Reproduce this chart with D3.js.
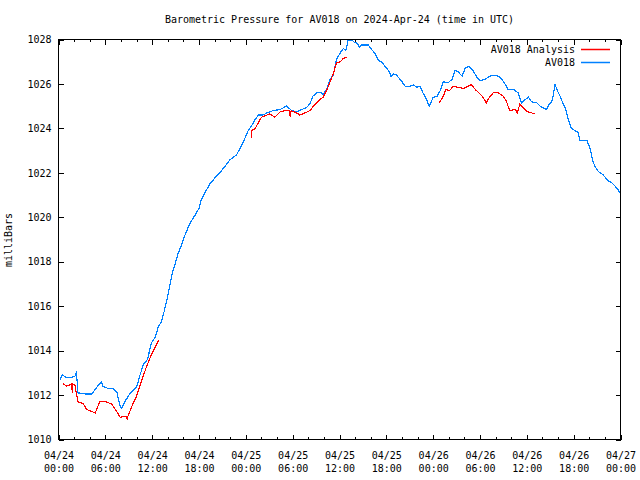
<!DOCTYPE html>
<html>
<head>
<meta charset="utf-8">
<script src="https://cdn.jsdelivr.net/npm/d3@7"></script>
<style>
  html, body { margin: 0; padding: 0; background: #fff; }
  svg { display: block; }
  text { font-family: "DejaVu Sans Mono", "Liberation Mono", monospace; font-size: 10px; fill: #000; }
</style>
</head>
<body>
<svg id="chart" width="640" height="480"></svg>
<script>
// ---- data (hours since 2024-04-24 00:00 UTC, millibars) ----
const titleText = "Barometric Pressure for AV018 on 2024-Apr-24 (time in UTC)";
const yLabel = "milliBars";
const seriesNames = ["AV018 Analysis", "AV018"];
const seriesColors = ["#ff0000", "#0080ff"];

const blueHours = [0.2,0.5,1.0,1.7,2.1,2.3,2.5,3.4,4.3,4.9,5.5,5.7,6.3,7.0,7.5,7.9,8.1,8.5,9.2,10.0,10.4,10.9,11.4,11.9,12.4,12.8,13.2,13.6,13.9,14.3,14.6,15.1,15.3,15.7,16.2,16.8,17.5,18.0,18.3,18.9,19.4,20.1,20.9,22.0,22.8,23.7,24.3,24.7,25.2,25.6,26.2,26.7,27.5,28.4,29.2,29.9,30.5,31.2,31.8,32.2,32.6,33.1,33.7,33.9,34.4,34.8,35.2,35.6,36.1,36.5,36.8,37.1,37.6,38.0,38.2,38.6,38.8,39.7,40.1,40.5,41.0,41.4,41.8,42.3,42.6,42.9,43.3,44.0,44.4,45.0,45.5,45.9,46.3,46.7,47.2,47.5,48.0,48.5,48.9,49.3,49.9,50.4,50.8,51.2,51.7,52.1,52.6,53.1,53.6,54.0,54.6,55.3,55.9,56.6,57.2,57.6,58.3,58.9,59.3,59.8,60.2,60.6,61.3,61.7,62.5,62.9,63.2,63.4,63.6,63.9,64.2,64.6,65.0,65.3,65.7,66.2,66.6,66.8,67.7,68.1,68.4,68.7,69.2,69.8,70.4,70.9,71.3,71.7,71.9];
const bluePressure = [1012.7,1012.9,1012.8,1012.8,1012.85,1013.0,1012.1,1012.05,1012.05,1012.35,1012.6,1012.4,1012.3,1012.3,1012.1,1011.5,1011.4,1011.7,1012.1,1012.35,1012.85,1013.4,1013.6,1014.35,1014.6,1015.1,1015.3,1015.85,1016.3,1017.0,1017.5,1018.1,1018.35,1018.7,1019.2,1019.7,1020.1,1020.4,1020.8,1021.2,1021.5,1021.8,1022.1,1022.6,1022.8,1023.4,1023.9,1024.1,1024.4,1024.6,1024.6,1024.7,1024.8,1024.85,1025.0,1024.8,1024.75,1024.85,1024.95,1025.1,1025.45,1025.6,1025.6,1025.5,1025.8,1026.2,1026.4,1027.1,1027.4,1027.6,1027.5,1027.95,1027.97,1027.85,1027.85,1027.65,1027.75,1027.75,1027.55,1027.4,1027.05,1027.0,1026.8,1026.6,1026.35,1026.45,1026.4,1026.1,1025.9,1025.9,1025.95,1025.85,1025.9,1025.6,1025.25,1025.0,1025.4,1025.45,1025.7,1026.1,1026.05,1026.2,1026.6,1026.55,1026.35,1026.7,1026.8,1026.6,1026.3,1026.15,1026.2,1026.35,1026.4,1026.3,1026.0,1025.75,1025.75,1025.6,1025.15,1025.3,1025.4,1025.2,1025.15,1025.0,1024.85,1025.1,1025.2,1025.5,1026.0,1025.7,1025.5,1025.15,1024.85,1024.4,1024.0,1023.9,1023.8,1023.45,1023.45,1023.1,1022.6,1022.3,1022.05,1021.9,1021.65,1021.55,1021.4,1021.25,1021.1];

// null marks a gap in the analysis series
const redHours = [0.6,1.05,1.7,1.77,1.86,2.1,2.5,3.2,3.6,4.7,5.3,6.0,6.8,7.2,7.9,8.7,8.8,8.9,9.4,10.0,10.7,11.3,12.0,12.9,
  18.0,
  24.75,24.76,25.2,25.6,26.0,26.7,27.1,27.7,28.4,29.0,29.6,29.7,29.8,30.5,30.9,31.6,32.2,32.9,33.5,33.9,34.4,34.8,35.2,35.6,36.1,36.5,36.9,
  43.0,
  48.8,49.3,49.6,50.1,50.6,51.2,51.9,52.5,52.9,53.4,54.0,54.4,54.8,55.3,55.7,56.3,57.0,57.4,57.8,58.5,58.8,59.1,59.5,60.0,60.6,61.0];
const redPressure = [1012.5,1012.4,1012.5,1012.1,1012.5,1012.45,1011.7,1011.6,1011.35,1011.2,1011.7,1011.7,1011.6,1011.4,1011.0,1011.05,1010.9,1011.05,1011.5,1011.95,1012.7,1013.3,1013.9,1014.5,
  null,
  1023.55,1023.9,1024.0,1024.25,1024.5,1024.6,1024.65,1024.5,1024.75,1024.8,1024.8,1024.5,1024.8,1024.7,1024.6,1024.7,1024.8,1025.1,1025.3,1025.4,1025.75,1026.1,1026.45,1026.95,1027.0,1027.15,1027.2,
  null,
  1025.15,1025.45,1025.75,1025.7,1025.9,1025.85,1025.8,1025.9,1025.97,1025.75,1025.55,1025.4,1025.15,1025.45,1025.6,1025.6,1025.45,1025.2,1024.8,1024.85,1024.7,1025.1,1024.95,1024.75,1024.7,1024.65];

const yTicks = [1010,1012,1014,1016,1018,1020,1022,1024,1026,1028];
const xTickHours = [0,6,12,18,24,30,36,42,48,54,60,66,72];
const xTickDays = ["04/24","04/24","04/24","04/24","04/25","04/25","04/25","04/25","04/26","04/26","04/26","04/26","04/27"];
const xTickTimes = ["00:00","06:00","12:00","18:00","00:00","06:00","12:00","18:00","00:00","06:00","12:00","18:00","00:00"];
const xMinorStepHours = 2;

// ---- drawing ----
const t0 = Date.UTC(2024, 3, 24, 0, 0);
const toDate = h => new Date(t0 + h * 3600e3);

const L = 58.5, R = 620.5, T = 39.5, B = 439.5;
const svg = d3.select("#chart");

const x = d3.scaleUtc().domain([toDate(0), toDate(72)]).range([L, R]);
const y = d3.scaleLinear().domain([1010, 1028]).range([B, T]);

const majorDates = xTickHours.map(toDate);
const minorDates = d3.range(0, 72 + 0.001, xMinorStepHours).filter(h => h % 6 !== 0).map(toDate);

function styleAxis(g) {
  g.select(".domain").remove();
  g.selectAll("line").attr("stroke", "#000").attr("shape-rendering", "crispEdges");
}

// bottom major with labels
const bottom = svg.append("g").attr("transform", `translate(0,${B})`)
  .call(d3.axisBottom(x).tickValues(majorDates).tickSizeInner(-5).tickSizeOuter(0)
    .tickPadding(0).tickFormat((d, i) => ""));
styleAxis(bottom);
bottom.selectAll(".tick text").remove();
bottom.selectAll(".tick").each(function(d, i) {
  const t = d3.select(this).append("text")
    .attr("text-anchor", "middle")
    .attr("font-family", "DejaVu Sans Mono, monospace")
    .attr("font-size", 10)
    .attr("fill", "#000");
  t.append("tspan").attr("x", 0).attr("y", 19).text(xTickDays[i]);
  t.append("tspan").attr("x", 0).attr("y", 32).text(xTickTimes[i]);
});
// bottom minor
styleAxis(svg.append("g").attr("transform", `translate(0,${B})`)
  .call(d3.axisBottom(x).tickValues(minorDates).tickSizeInner(-2.5).tickSizeOuter(0).tickFormat("")));
// top major + minor
styleAxis(svg.append("g").attr("transform", `translate(0,${T})`)
  .call(d3.axisTop(x).tickValues(majorDates).tickSizeInner(-5).tickSizeOuter(0).tickFormat("")));
styleAxis(svg.append("g").attr("transform", `translate(0,${T})`)
  .call(d3.axisTop(x).tickValues(minorDates).tickSizeInner(-2.5).tickSizeOuter(0).tickFormat("")));

// left with labels
const left = svg.append("g").attr("transform", `translate(${L},0)`)
  .call(d3.axisLeft(y).tickValues(yTicks).tickSizeInner(-5).tickSizeOuter(0).tickPadding(7).tickFormat(d3.format("d")));
styleAxis(left);
left.selectAll(".tick text")
  .attr("font-family", "DejaVu Sans Mono, monospace").attr("font-size", 10).attr("fill", "#000");
// right
styleAxis(svg.append("g").attr("transform", `translate(${R},0)`)
  .call(d3.axisRight(y).tickValues(yTicks).tickSizeInner(-5).tickSizeOuter(0).tickFormat("")));

// frame
svg.append("rect").attr("x", L).attr("y", T).attr("width", R - L).attr("height", B - T)
  .attr("fill", "none").attr("stroke", "#000").attr("shape-rendering", "crispEdges");

// lines
const blueData = blueHours.map((h, i) => ({ t: toDate(h), v: bluePressure[i] }));
const redData = redHours.map((h, i) => ({ t: toDate(h), v: redPressure[i] }));
const line = d3.line().defined(d => d.v != null).x(d => x(d.t)).y(d => y(d.v));

svg.append("path").datum(blueData).attr("d", line)
  .attr("fill", "none").attr("stroke", seriesColors[1]).attr("stroke-width", 1.2)
  .attr("shape-rendering", "crispEdges");
svg.append("path").datum(redData).attr("d", line)
  .attr("fill", "none").attr("stroke", seriesColors[0]).attr("stroke-width", 1.2)
  .attr("shape-rendering", "crispEdges");

// title
svg.append("text").attr("x", (L + R) / 2).attr("y", 23).attr("text-anchor", "middle").text(titleText);

// y label
svg.append("text").attr("transform", "translate(12,240) rotate(-90)")
  .attr("text-anchor", "middle").text(yLabel);

// legend
const legendRows = [49.5, 62.5];
seriesNames.forEach((name, i) => {
  svg.append("text").attr("x", 575).attr("y", legendRows[i] + 3.5)
    .attr("text-anchor", "end").text(name);
  svg.append("line").attr("x1", 581).attr("x2", 610)
    .attr("y1", legendRows[i]).attr("y2", legendRows[i])
    .attr("stroke", seriesColors[i]).attr("stroke-width", 1.5);
});
</script>
</body>
</html>
